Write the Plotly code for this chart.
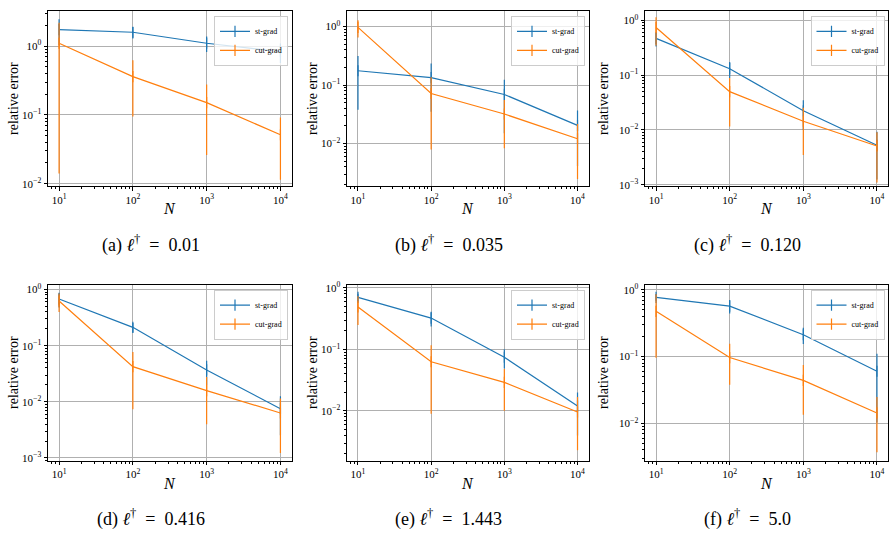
import plotly.graph_objects as go

W, H = 895, 538

N = [10, 100, 1000, 10000]
x_tick_vals = [10, 100, 1000, 10000]
x_tick_text = ["10<sup>1</sup>", "10<sup>2</sup>", "10<sup>3</sup>", "10<sup>4</sup>"]
y_tick_vals = [0.001, 0.01, 0.1, 1]
y_tick_text = ["10<sup>−3</sup>", "10<sup>−2</sup>", "10<sup>−1</sup>", "10<sup>0</sup>"]

series_names = ["st-grad", "cut-grad"]
captions = ["(a) <i>ℓ</i><sup>†</sup>\u2002=\u20020.01", "(b) <i>ℓ</i><sup>†</sup>\u2002=\u20020.035",
            "(c) <i>ℓ</i><sup>†</sup>\u2002=\u20020.120", "(d) <i>ℓ</i><sup>†</sup>\u2002=\u20020.416",
            "(e) <i>ℓ</i><sup>†</sup>\u2002=\u20021.443", "(f) <i>ℓ</i><sup>†</sup>\u2002=\u20025.0"]

# (a)
st_a = [1.74, 1.59, 1.10, 0.83]
st_a_err = [0.71, 0.30, 0.28, 0.26]
cut_a = [1.10, 0.36, 0.151, 0.0514]
cut_a_err = [1.086, 0.265, 0.125, 0.040]
# (b)
st_b = [0.175, 0.134, 0.069, 0.0205]
st_b_err = [0.137, 0.099, 0.054, 0.0164]
cut_b = [0.962, 0.0717, 0.032, 0.0121]
cut_b_err = [0.314, 0.0638, 0.0237, 0.0096]
# (c)
st_c = [0.468, 0.131, 0.0224, 0.00525]
st_c_err = [0.137, 0.042, 0.0124, 0.004]
cut_c = [0.738, 0.0499, 0.0144, 0.0051]
cut_c_err = [0.393, 0.0384, 0.0109, 0.004]
# (d)
st_d = [0.676, 0.212, 0.0369, 0.00753]
st_d_err = [0.20, 0.040, 0.017, 0.005]
cut_d = [0.624, 0.0423, 0.0158, 0.00632]
cut_d_err = [0.225, 0.0349, 0.0118, 0.0051]
# (e)
st_e = [0.70, 0.323, 0.0745, 0.012]
st_e_err = [0.10, 0.087, 0.0256, 0.008]
cut_e = [0.49, 0.063, 0.0291, 0.0096]
cut_e_err = [0.24, 0.054, 0.019, 0.0073]
# (f)
st_f = [0.772, 0.570, 0.212, 0.0603]
st_f_err = [0.09, 0.13, 0.058, 0.05]
cut_f = [0.476, 0.0967, 0.044, 0.0143]
cut_f_err = [0.38, 0.059, 0.0305, 0.0106]

st_vals = [st_a, st_b, st_c, st_d, st_e, st_f]
st_errs = [st_a_err, st_b_err, st_c_err, st_d_err, st_e_err, st_f_err]
cut_vals = [cut_a, cut_b, cut_c, cut_d, cut_e, cut_f]
cut_errs = [cut_a_err, cut_b_err, cut_c_err, cut_d_err, cut_e_err, cut_f_err]

# log10 axis ranges
x_range = [0.85, 4.15]
y_ranges = [[-2.04, 0.505], [-2.73, 0.256], [-3.03, 0.162],
            [-3.05, 0.076], [-2.81, 0.043], [-2.56, 0.068]]

colors = ["#1f77b4", "#ff7f0e"]
FONT = "'Liberation Serif', 'Times New Roman', serif"

# pixel layout
cols = [(48, 291.5), (347, 588.5), (645, 888)]
rows = [(6.5, 184.5), (285, 463.5)]
ytitle_x = [14, 313, 604]
xtitle_y = [207, 487]
caption_y = [243, 522]
caption_dx = -19

fig = go.Figure()
layout = dict(width=W, height=H, margin=dict(l=0, r=0, t=0, b=0),
              paper_bgcolor="white", plot_bgcolor="white",
              font=dict(family=FONT, color="black"), annotations=[])

for i in range(6):
    r, c = divmod(i, 3)
    sfx = "" if i == 0 else str(i + 1)
    x0, x1 = cols[c]
    yt, yb = rows[r]
    xd = [x0 / W, x1 / W]
    yd = [1 - yb / H, 1 - yt / H]
    leg = "legend" + sfx
    for s, (vals, errs) in enumerate([(st_vals[i], st_errs[i]), (cut_vals[i], cut_errs[i])]):
        fig.add_trace(go.Scatter(
            x=N, y=vals, mode="lines+markers", name=series_names[s],
            line=dict(color=colors[s], width=1.2),
            marker=dict(symbol="line-ns", size=8, color=colors[s],
                        line=dict(width=1.2, color=colors[s])),
            error_y=dict(type="data", array=errs, symmetric=True, width=0,
                         thickness=1.2, color=colors[s]),
            xaxis="x" + sfx, yaxis="y" + sfx, legend=leg, showlegend=True))
    ax_common = dict(type="log", showline=True, linecolor="black", linewidth=1, mirror=True,
                     ticks="outside", ticklen=3.5, tickwidth=0.8, tickcolor="black",
                     showgrid=True, gridcolor="#b0b0b0", gridwidth=0.8, zeroline=False,
                     tickfont=dict(size=11, family=FONT, color="black"),
                     minor=dict(ticks="outside", ticklen=2, tickwidth=0.6, tickcolor="black",
                                showgrid=False, dtick="D1"))
    layout["xaxis" + sfx] = dict(ax_common, domain=xd, range=x_range, anchor="y" + sfx,
                                 tickmode="array", tickvals=x_tick_vals, ticktext=x_tick_text)
    layout["yaxis" + sfx] = dict(ax_common, domain=yd, range=y_ranges[i], anchor="x" + sfx,
                                 tickmode="array", tickvals=y_tick_vals, ticktext=y_tick_text)
    layout[leg] = dict(x=(x1 - 3.5) / W, y=1 - (yt + 4.5) / H, xanchor="right", yanchor="top",
                       bgcolor="rgba(255,255,255,0.8)", bordercolor="#cccccc", borderwidth=1,
                       font=dict(size=8, family=FONT, color="black"), tracegroupgap=0,
                       itemwidth=30)
    xc = (x0 + x1) / 2
    layout["annotations"] += [
        dict(text="<i>N</i>", x=xc / W, y=1 - xtitle_y[r] / H, xref="paper", yref="paper",
             showarrow=False, font=dict(size=16, family=FONT, color="black"),
             xanchor="center", yanchor="middle"),
        dict(text="relative error", x=ytitle_x[c] / W, y=1 - ((yt + yb) / 2) / H,
             xref="paper", yref="paper", showarrow=False, textangle=-90,
             font=dict(size=14, family=FONT, color="black"), xanchor="center", yanchor="middle"),
        dict(text=captions[i], x=(xc + caption_dx) / W, y=1 - caption_y[r] / H,
             xref="paper", yref="paper", showarrow=False,
             font=dict(size=18, family=FONT, color="black"),
             xanchor="center", yanchor="middle"),
    ]

fig.update_layout(**layout)
fig.write_html("out.html")
